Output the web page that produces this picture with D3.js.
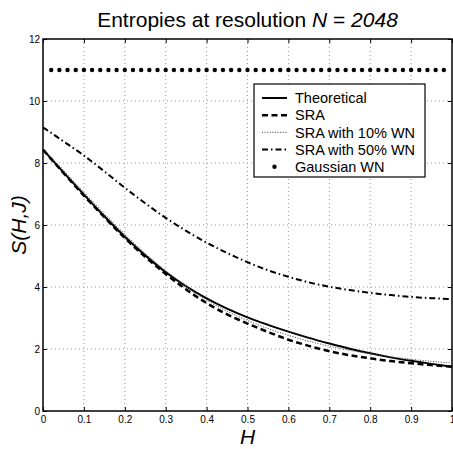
<!DOCTYPE html>
<html>
<head>
<meta charset="utf-8">
<script src="https://cdn.jsdelivr.net/npm/d3@7"></script>
<style>
  body { margin: 0; background: #fff; }
  svg { display: block; font-family: "Liberation Sans", Arial, sans-serif; }
</style>
</head>
<body>
<script>
// sample positions along H
const hValues = [0, 0.05, 0.1, 0.15, 0.2, 0.25, 0.3, 0.35, 0.4, 0.45, 0.5,
                 0.55, 0.6, 0.65, 0.7, 0.75, 0.8, 0.85, 0.9, 0.95, 1.0];

const theoretical = [8.43, 7.70, 6.98, 6.28, 5.62, 5.02, 4.48, 4.02, 3.63, 3.30, 3.02,
                     2.78, 2.56, 2.36, 2.18, 2.01, 1.86, 1.73, 1.62, 1.52, 1.43];
const sra = [8.43, 7.68, 6.95, 6.25, 5.58, 4.97, 4.42, 3.92, 3.48, 3.12, 2.82,
             2.55, 2.30, 2.10, 1.93, 1.80, 1.70, 1.61, 1.54, 1.48, 1.43];
const sra10 = [8.47, 7.76, 7.05, 6.36, 5.70, 5.08, 4.52, 4.02, 3.58, 3.22, 2.92,
               2.66, 2.44, 2.25, 2.09, 1.96, 1.85, 1.75, 1.67, 1.60, 1.55];
const sra50 = [9.15, 8.70, 8.24, 7.73, 7.20, 6.70, 6.23, 5.81, 5.43, 5.10, 4.80,
               4.54, 4.33, 4.15, 4.01, 3.90, 3.81, 3.74, 3.68, 3.64, 3.61];

// Gaussian white noise markers
const gaussH = [0.02, 0.04, 0.06, 0.08, 0.10, 0.12, 0.14, 0.16, 0.18, 0.20,
                0.22, 0.24, 0.26, 0.28, 0.30, 0.32, 0.34, 0.36, 0.38, 0.40,
                0.42, 0.44, 0.46, 0.48, 0.50, 0.52, 0.54, 0.56, 0.58, 0.60,
                0.62, 0.64, 0.66, 0.68, 0.70, 0.72, 0.74, 0.76, 0.78, 0.80,
                0.82, 0.84, 0.86, 0.88, 0.90, 0.92, 0.94, 0.96, 0.98];
const gaussS = 11;

const xTicks = [0, 0.1, 0.2, 0.3, 0.4, 0.5, 0.6, 0.7, 0.8, 0.9, 1];
const yTicks = [0, 2, 4, 6, 8, 10, 12];

const legendLabels = ["Theoretical", "SRA", "SRA with 10% WN", "SRA with 50% WN", "Gaussian WN"];

const width = 453, height = 449;
const plotLeft = 43, plotRight = 452, plotTop = 39, plotBottom = 411;

const svg = d3.select("body").append("svg")
    .attr("width", width)
    .attr("height", height);

const x = d3.scaleLinear().domain([0, 1]).range([plotLeft, plotRight]);
const y = d3.scaleLinear().domain([0, 12]).range([plotBottom, plotTop]);

// grid
svg.append("g").selectAll("line")
    .data(xTicks.slice(1, -1))
  .enter().append("line")
    .attr("x1", d => x(d)).attr("x2", d => x(d))
    .attr("y1", plotTop).attr("y2", plotBottom)
    .attr("stroke", "#999").attr("stroke-width", 1)
    .attr("stroke-dasharray", "1,3");
svg.append("g").selectAll("line")
    .data(yTicks.slice(1, -1))
  .enter().append("line")
    .attr("x1", plotLeft).attr("x2", plotRight)
    .attr("y1", d => y(d)).attr("y2", d => y(d))
    .attr("stroke", "#999").attr("stroke-width", 1)
    .attr("stroke-dasharray", "1,3");

// axes (ticks inward)
const tickLen = 4;
svg.append("g").attr("transform", `translate(0,${plotBottom})`)
    .call(d3.axisBottom(x).tickValues(xTicks).tickSizeInner(-tickLen).tickSizeOuter(0)
      .tickFormat(d3.format("")))
    .call(g => {
      g.select(".domain").remove();
      g.selectAll("text").attr("font-size", 10).attr("dy", "0.71em").attr("y", 5)
        .attr("font-family", "Liberation Sans, Arial, sans-serif").attr("fill", "#000");
    });
svg.append("g").attr("transform", `translate(${plotLeft},0)`)
    .call(d3.axisLeft(y).tickValues(yTicks).tickSizeInner(-tickLen).tickSizeOuter(0))
    .call(g => {
      g.select(".domain").remove();
      g.selectAll("text").attr("font-size", 10).attr("x", -3)
        .attr("font-family", "Liberation Sans, Arial, sans-serif").attr("fill", "#000");
    });
svg.append("g").attr("transform", `translate(0,${plotTop})`)
    .call(d3.axisTop(x).tickValues(xTicks).tickSizeInner(-tickLen).tickSizeOuter(0).tickFormat(""))
    .call(g => g.select(".domain").remove());
svg.append("g").attr("transform", `translate(${plotRight},0)`)
    .call(d3.axisRight(y).tickValues(yTicks).tickSizeInner(-tickLen).tickSizeOuter(0).tickFormat(""))
    .call(g => g.select(".domain").remove());

svg.append("rect")
    .attr("x", plotLeft).attr("y", plotTop)
    .attr("width", plotRight - plotLeft).attr("height", plotBottom - plotTop)
    .attr("fill", "none").attr("stroke", "#000").attr("stroke-width", 1.5);

// curves
const series = [
  {values: theoretical, dash: null, width: 2, color: "#000"},
  {values: sra, dash: "6,3.5", width: 2.5, color: "#000"},
  {values: sra10, dash: "1,1.6", width: 1.1, color: "#555"},
  {values: sra50, dash: "6,3,1.5,3", width: 2, color: "#000"}
];

const line = d3.line()
    .x(d => x(d[0]))
    .y(d => y(d[1]))
    .curve(d3.curveMonotoneX);

series.forEach(s => {
  svg.append("path")
      .datum(hValues.map((h, i) => [h, s.values[i]]))
      .attr("d", line)
      .attr("fill", "none")
      .attr("stroke", s.color)
      .attr("stroke-width", s.width)
      .attr("stroke-dasharray", s.dash);
});

svg.append("g").selectAll("circle")
    .data(gaussH)
  .enter().append("circle")
    .attr("cx", d => x(d))
    .attr("cy", y(gaussS))
    .attr("r", 2.2)
    .attr("fill", "#000");

// legend
const lg = svg.append("g");
lg.append("rect")
    .attr("x", 254).attr("y", 84)
    .attr("width", 171).attr("height", 93)
    .attr("fill", "#fff").attr("stroke", "#000").attr("stroke-width", 1.2);

legendLabels.forEach((label, i) => {
  const cy = 98 + i * 17.2;
  const s = series[i];
  if (s) {
    lg.append("line")
        .attr("x1", 262).attr("x2", 287)
        .attr("y1", cy).attr("y2", cy)
        .attr("stroke", s.color).attr("stroke-width", s.width)
        .attr("stroke-dasharray", s.dash);
  } else {
    lg.append("circle").attr("cx", 274.5).attr("cy", cy).attr("r", 2.2).attr("fill", "#000");
  }
  lg.append("text")
      .attr("x", 295).attr("y", cy)
      .attr("dy", "0.36em")
      .attr("font-size", 14.5)
      .text(label);
});

// title
const title = svg.append("text")
    .attr("x", (plotLeft + plotRight) / 2)
    .attr("y", 27)
    .attr("text-anchor", "middle")
    .attr("font-size", 21);
title.append("tspan").text("Entropies at resolution ");
title.append("tspan").attr("font-style", "italic").text("N");
title.append("tspan").text(" = ");
title.append("tspan").attr("font-style", "italic").text("2048");

// axis labels
svg.append("text")
    .attr("x", (plotLeft + plotRight) / 2)
    .attr("y", 444)
    .attr("text-anchor", "middle")
    .attr("font-size", 21)
    .attr("font-style", "italic")
    .text("H");

svg.append("text")
    .attr("transform", `translate(26,${(plotTop + plotBottom) / 2}) rotate(-90)`)
    .attr("text-anchor", "middle")
    .attr("font-size", 21)
    .attr("font-style", "italic")
    .text("S(H,J)");
</script>
</body>
</html>
